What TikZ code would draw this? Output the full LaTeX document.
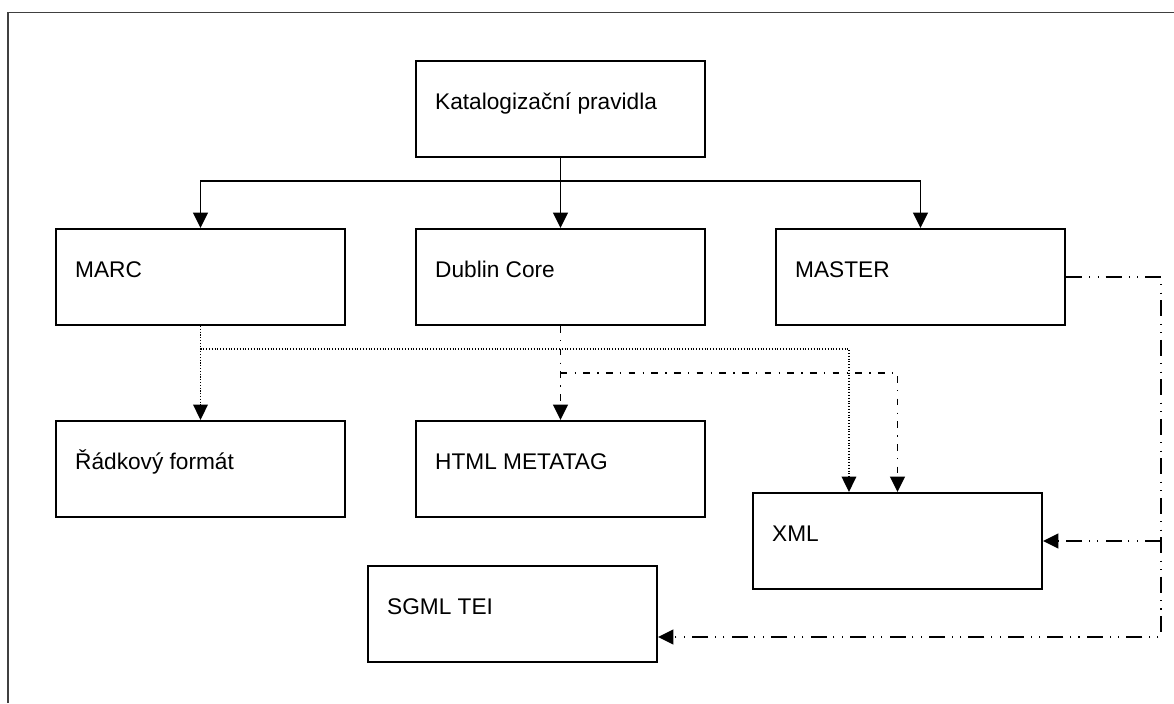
\documentclass[tikz,border=0pt]{standalone}
\usepackage{fontspec}
\setmainfont{Liberation Sans}
\usetikzlibrary{arrows.meta}
\begin{document}
\begin{tikzpicture}[x=0.75pt,y=-0.75pt,
  box/.style={draw, line width=1.6pt, minimum width=216.75pt, minimum height=72pt, inner sep=0pt},
  lbl/.style={inner sep=0pt, anchor=base west, font=\fontsize{17}{20}\selectfont},
  tip/.style={-{Triangle[length=11.5pt,width=11pt]}},
  conn/.style={line width=1.45pt, tip},
  dotconn/.style={line width=1.05pt, dash pattern=on 0.8pt off 1.3pt, tip},
  dashdot/.style={line width=1.45pt, dash pattern=on 5pt off 5.5pt on 1pt off 5.5pt, tip},
  dashdotdot/.style={line width=1.45pt, dash pattern=on 12pt off 5.5pt on 0.8pt off 5.5pt on 0.8pt off 5pt, tip},
  frame/.style={draw=black!75, line width=1pt}
]
\useasboundingbox (0,0) rectangle (1174,703);
\draw[frame] (8,703) -- (8,12.5) -- (1174,12.5);

% boxes
\node[box] (kat)    at (560.5,109) {};
\node[box] (marc)   at (200.5,277) {};
\node[box] (dc)     at (560.5,277) {};
\node[box] (master) at (920.5,277) {};
\node[box] (rad)    at (200.5,469) {};
\node[box] (html)   at (560.5,469) {};
\node[box] (xml)    at (897.5,541) {};
\node[box] (sgml)   at (512.5,614) {};

% labels
\node[lbl] (katT)    at ([shift={(15pt,-37pt)}]kat.north west) {Katalogizační pravidla};
\node[lbl] (marcT)   at ([shift={(15pt,-37pt)}]marc.north west) {MARC};
\node[lbl] (dcT)     at ([shift={(15pt,-37pt)}]dc.north west) {Dublin Core};
\node[lbl] (masterT) at ([shift={(15pt,-37pt)}]master.north west) {MASTER};
\node[lbl] (radT)    at ([shift={(15pt,-37pt)}]rad.north west) {Řádkový formát};
\node[lbl] (htmlT)   at ([shift={(15pt,-37pt)}]html.north west) {HTML METATAG};
\node[lbl] (xmlT)    at ([shift={(15pt,-37pt)}]xml.north west) {XML};
\node[lbl] (sgmlT)   at ([shift={(15pt,-37pt)}]sgml.north west) {SGML TEI};

% solid tree
\coordinate (bus) at (560.5,181);
\draw[conn] (kat.south) -- (dc.north);
\draw[conn] (bus) -| (marc.north);
\draw[conn] (bus) -| (master.north);

% dotted from MARC
\coordinate (dotj) at (200.5,349);
\draw[dotconn] (marc.south) -- (rad.north);
\draw[dotconn] (dotj) -| ([xshift=-36.4pt]xml.north);

% dash-dot from Dublin Core
\coordinate (ddj) at (560.5,373);
\draw[dashdot] (dc.south) -- (html.north);
\draw[dashdot] (ddj) -| (xml.north);

% dash-dot-dot from MASTER
\coordinate (rt) at (1161,277);
\coordinate (rb) at (1161,637);
\draw[dashdotdot] (master.east) -- (rt) -- (rb) -- ([yshift=-17.25pt]sgml.east);
\draw[dashdotdot] (xml.east -| rb) -- (xml.east);
\end{tikzpicture}
\end{document}
